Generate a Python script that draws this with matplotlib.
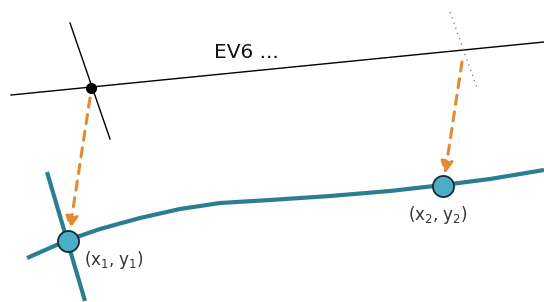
import matplotlib.pyplot as plt

# pixel-space geometry (x right, y down)
ev_line_x = [11, 544]
ev_line_y = [95, 42]
ev_perp_x = [70, 110]
ev_perp_y = [23, 139]
ev_dot_x, ev_dot_y = 91, 88
dotted_x = [450, 477]
dotted_y = [12, 88]

curve_x = [27, 68, 100, 140, 180, 220, 270, 330, 390, 443, 490, 544]
curve_y = [258, 240, 229, 218, 209, 203, 200, 196, 191, 185, 179, 170]
curve_perp_x = [47, 85]
curve_perp_y = [172, 301]

point_x = [68, 443]
point_y = [241, 186]
arrow_start = [(90, 98), (462, 62)]
arrow_end = [(70, 229), (445, 174)]
point_labels = ["(x$_1$, y$_1$)", "(x$_2$, y$_2$)"]
label_pos = [(84, 260), (408, 215)]

fig = plt.figure(figsize=(5.44, 3.02), dpi=100)
ax = fig.add_axes([0, 0, 1, 1])
ax.set_xlim(0, 544)
ax.set_ylim(302, 0)
ax.axis("off")
plt.rcParams["mathtext.default"] = "regular"

teal = "#2b7d90"
fill = "#4aaec8"
orange = "#e38a35"

# eigenvector line and its perpendicular
ax.plot(ev_line_x, ev_line_y, color="black", lw=1.0)
ax.plot(ev_perp_x, ev_perp_y, color="black", lw=1.0)
ax.plot(dotted_x, dotted_y, color="#888888", lw=1.0, ls=(0, (1, 3)))
ax.plot(ev_dot_x, ev_dot_y, "o", color="black", ms=7)
ax.text(214, 52, "EV6 ...", fontsize=14.5, color="#111111", va="center")

# curve
ax.plot(curve_x, curve_y, color=teal, lw=3, solid_capstyle="butt",
        solid_joinstyle="round")
ax.plot(curve_perp_x, curve_perp_y, color=teal, lw=3, solid_capstyle="butt")

# dashed arrows
for (x0, y0), (x1, y1) in zip(arrow_start, arrow_end):
    ax.annotate("", xy=(x1, y1), xytext=(x0, y0),
                arrowprops=dict(arrowstyle="-|>", color=orange, lw=2.2,
                                ls=(0, (3, 2.5)), mutation_scale=18,
                                shrinkA=0, shrinkB=0))

ax.scatter(point_x, point_y, s=230, color=fill, edgecolor="#1a2a30",
           linewidth=1.3, zorder=5)

for lab, (lx, ly) in zip(point_labels, label_pos):
    ax.text(lx, ly, lab, fontsize=12, color="#333333", va="center")

fig.savefig("out.png", dpi=100)
